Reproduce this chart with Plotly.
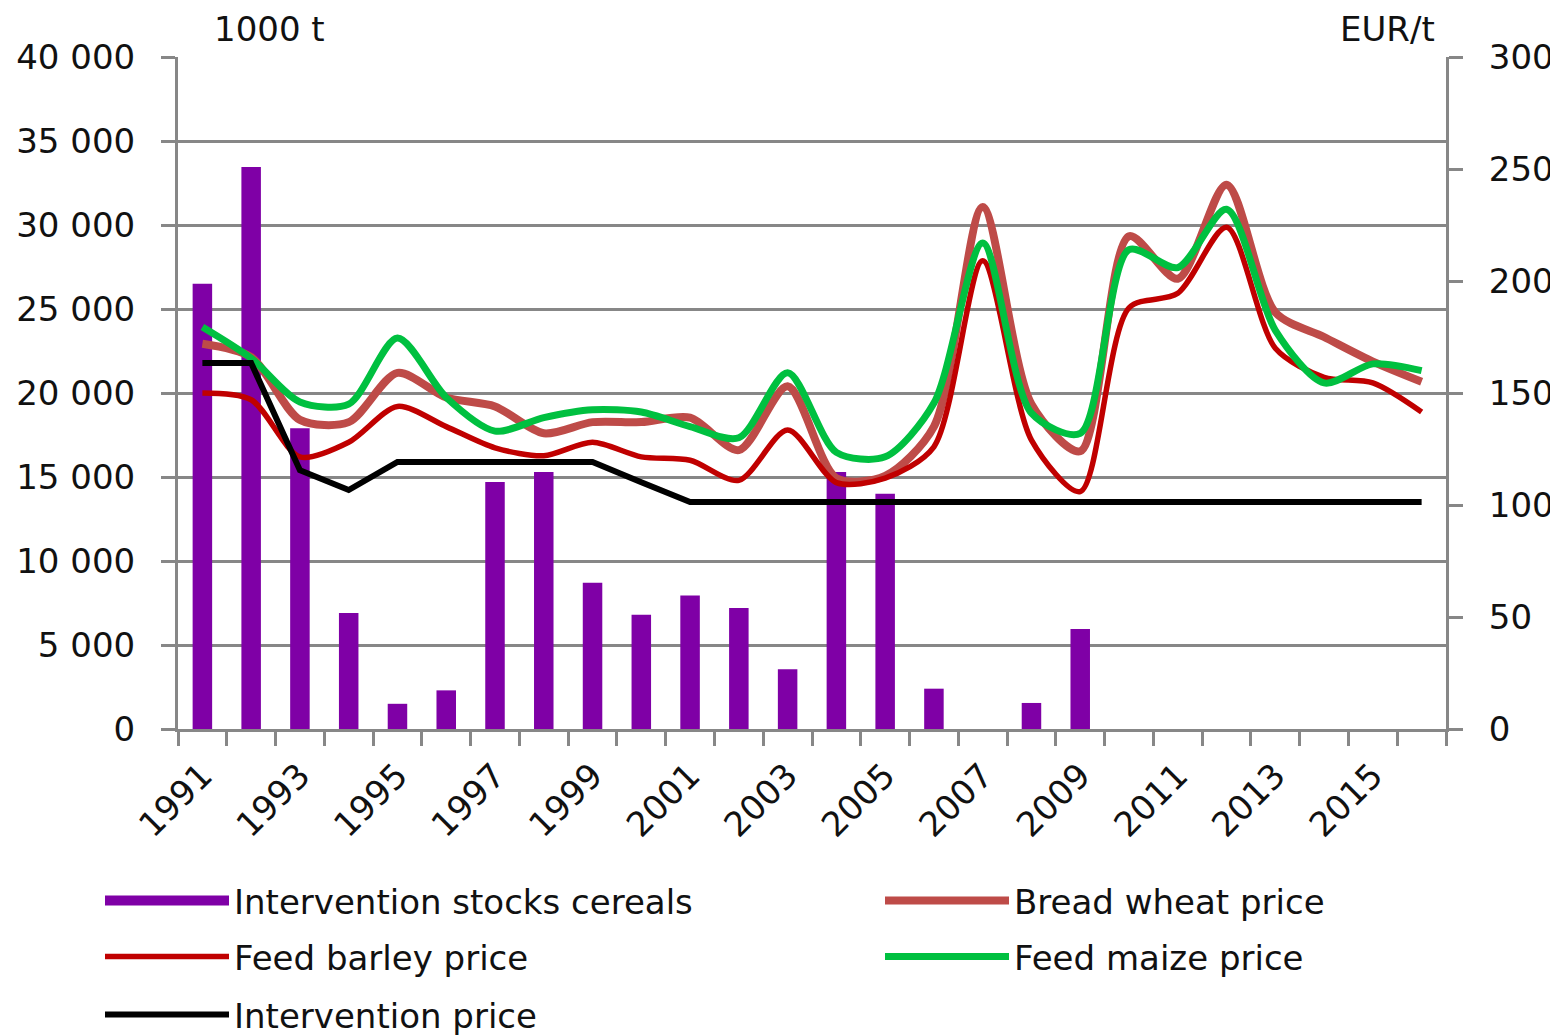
import plotly.graph_objects as go

years = list(range(1991, 2017))
year_labels = [str(y) for y in range(1991, 2017, 2)]

stocks = [26500, 33450, 17900, 6900, 1500, 2300, 14700, 15300, 8700, 6800,
          7950, 7200, 3550, 15300, 14000, 2400, 0, 1550, 5950, 0,
          0, 0, 0, 0, 0, 0]

bread_wheat = [172, 166, 138, 137, 159, 148, 144, 132, 137, 137,
               139, 124.5, 153, 112, 113, 135, 233, 145, 124, 220,
               201, 243, 186, 175, 164, 155]

feed_barley = [150, 147, 121.5, 128, 144, 135, 125.5, 122, 128, 121.5,
               120, 111, 133.5, 110, 112, 126, 209, 129, 106, 188,
               194.5, 224, 170, 157, 154.5, 141.5]

feed_maize = [179.5, 165.5, 146, 145, 174.5, 148, 133, 139, 142.5, 141.5,
              135, 130, 159, 123.5, 121.5, 145.5, 217, 141, 132, 214,
              206, 232, 178, 154.5, 163, 160]

intervention = [163.4, 163.4, 115.5, 106.7, 119.2, 119.2, 119.2, 119.2, 119.2, 110.2,
                101.3, 101.3, 101.3, 101.3, 101.3, 101.3, 101.3, 101.3, 101.3, 101.3,
                101.3, 101.3, 101.3, 101.3, 101.3, 101.3]

FONT = "DejaVu Sans"
FS = 34
TXT = "#111111"
GRID = "#878787"
PURPLE = "#7F00A6"
W, H = 1558, 1035

fig = go.Figure()
fig.add_trace(go.Bar(x=years, y=stocks, name="Intervention stocks cereals",
                     marker=dict(color=PURPLE, line=dict(width=0)),
                     width=0.4, yaxis="y", showlegend=False))
# legend proxy for the bar series (wide block symbol)
fig.add_trace(go.Scatter(x=[None], y=[None], name="Intervention stocks cereals", mode="lines",
                         line=dict(color=PURPLE, width=24), legend="legend"))
fig.add_trace(go.Scatter(x=years, y=bread_wheat, name="Bread wheat price", mode="lines",
                         line=dict(color="#BE4B48", width=8, shape="spline", smoothing=0.8),
                         yaxis="y2", legend="legend2"))
fig.add_trace(go.Scatter(x=years, y=feed_barley, name="Feed barley price", mode="lines",
                         line=dict(color="#C00000", width=5.5, shape="spline", smoothing=0.8),
                         yaxis="y2", legend="legend3"))
fig.add_trace(go.Scatter(x=years, y=feed_maize, name="Feed maize price", mode="lines",
                         line=dict(color="#00C040", width=7, shape="spline", smoothing=0.8),
                         yaxis="y2", legend="legend4"))
fig.add_trace(go.Scatter(x=years, y=intervention, name="Intervention price", mode="lines",
                         line=dict(color="#000000", width=6, shape="linear"),
                         yaxis="y2", legend="legend5"))


def leg(xpx, ypx):
    return dict(
        xref="container", yref="container",
        x=xpx / W, y=1 - ypx / H, xanchor="left", yanchor="middle",
        orientation="h", itemwidth=124,
        font=dict(family=FONT, size=FS, color=TXT),
        bgcolor="rgba(0,0,0,0)", borderwidth=0,
    )


fig.update_layout(
    width=W, height=H,
    margin=dict(l=170, r=120, t=49, b=314, autoexpand=False),
    paper_bgcolor="white", plot_bgcolor="white",
    font=dict(family=FONT, size=FS, color=TXT),
    showlegend=True,
    hovermode=False,
    xaxis=dict(
        range=[1990.5, 2016.5],
        tickmode="array",
        tickvals=[int(v) for v in year_labels],
        ticktext=year_labels,
        tickangle=-45,
        ticks="",
        showgrid=False,
        showline=True, linecolor=GRID, linewidth=3,
        zeroline=False,
        tickfont=dict(family=FONT, size=FS, color=TXT),
        ticklabelstandoff=10,
        minor=dict(tick0=1990.5, dtick=1, ticks="outside", ticklen=14,
                   tickwidth=3, tickcolor=GRID, showgrid=False),
    ),
    yaxis=dict(
        range=[0, 40000],
        tickmode="array",
        tickvals=list(range(0, 40001, 5000)),
        ticktext=["0"] + [f"{v // 1000} 000" for v in range(5000, 40001, 5000)],
        showgrid=True, gridcolor=GRID, gridwidth=3,
        showline=True, linecolor=GRID, linewidth=3,
        ticks="outside", ticklen=14, tickwidth=3, tickcolor=GRID,
        zeroline=False,
        tickfont=dict(family=FONT, size=FS, color=TXT),
        ticklabelstandoff=19,
    ),
    yaxis2=dict(
        range=[0, 300],
        overlaying="y", side="right",
        tickvals=list(range(0, 301, 50)),
        showgrid=False,
        showline=True, linecolor=GRID, linewidth=3,
        ticks="outside", ticklen=14, tickwidth=3, tickcolor=GRID,
        zeroline=False,
        tickfont=dict(family=FONT, size=FS, color=TXT),
        ticklabelstandoff=19,
    ),
    legend=leg(92, 893),
    legend2=leg(872, 893),
    legend3=leg(92, 949),
    legend4=leg(872, 949),
    legend5=leg(92, 1007),
    annotations=[
        dict(text="1000 t", xref="paper", yref="paper", x=0.027, y=1.0,
             xanchor="left", yanchor="bottom", showarrow=False, yshift=6,
             font=dict(family=FONT, size=FS, color=TXT)),
        dict(text="EUR/t", xref="paper", yref="paper", x=0.993, y=1.0,
             xanchor="right", yanchor="bottom", showarrow=False, yshift=6,
             font=dict(family=FONT, size=FS, color=TXT)),
    ],
)

fig.write_html("out.html")
